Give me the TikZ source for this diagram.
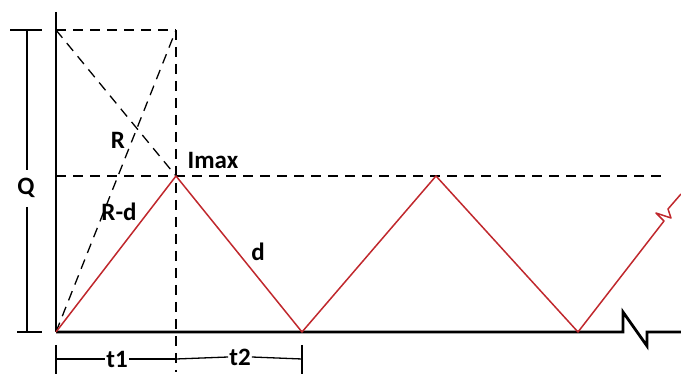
\documentclass[tikz,border=0pt]{standalone}
\usepackage{fontspec}
\setmainfont{Carlito}
\usetikzlibrary{calc}
\definecolor{linered}{HTML}{C0282D}

\begin{document}
\begin{tikzpicture}[
  x=1pt, y=-1pt,
  lbl/.style={font=\fontsize{25}{27}\selectfont\bfseries, inner sep=1pt},
  axis/.style={line width=2.8pt},
  guide/.style={line width=1.3pt, dash pattern=on 10pt off 7pt},
  dim/.style={line width=1.3pt},
  saw/.style={linered, line width=1.5pt, line join=round},
]
  \useasboundingbox (0,0) rectangle (681,374);

  % Points
  \coordinate (o) at (56,332);
  \coordinate (ytop) at (56,12);
  \coordinate (qtop) at (56,30);
  \coordinate (ctop) at (176,30);
  \coordinate (p1) at (176,176);
  \coordinate (v1) at (302,332);
  \coordinate (p2) at (436,176);
  \coordinate (v2) at (578,332);
  \coordinate (lvl) at (665,176);

  % Dashed guides
  \draw[guide] (qtop) -- (ctop);
  \draw[guide] (ctop) -- (176,372);
  \draw[guide] (qtop) -- (p1);
  \draw[guide] (o) -- (ctop);
  \draw[guide] (56,176) -- (lvl);

  % Axes
  \draw[axis] (ytop) -- (o);
  \draw[axis, line join=miter] (o) -- (623,332) -- (623,312) -- (647,346) -- (647,332) -- (681,332);

  % Inventory saw-tooth
  \draw[saw] (o) -- (p1) -- (v1) -- (p2) -- (v2) -- (664,221) -- (656,213) -- (671,218) -- (668,209) -- (681,194);

  % Q dimension
  \draw[dim] (10,30) -- (42,30);
  \draw[dim] (17,332) -- (42,332);
  \draw[dim] (27,30) -- (27,170);
  \draw[dim] (27,207) -- (27,332);
  \node[lbl] (q) at (26,188) {Q};

  % t1, t2 dimensions
  \draw[dim] (56,345) -- (56,374);
  \draw[dim] (302,345) -- (302,374);
  \node[lbl] (t1) at (117,359) {t1};
  \node[lbl] (t2) at (240,357) {t2};
  \draw[dim] (56,359) -- (t1.west);
  \draw[dim] (t1.east) -- (176,359);
  \draw[dim] (176,359) -- (t2.west);
  \draw[dim] (t2.east) -- (302,359);

  % Labels
  \node[lbl] (imax) at (213,160) {Imax};
  \node[lbl] (r) at (118,140) {R};
  \node[lbl] (rd) at (119,212) {R-d};
  \node[lbl] (d) at (258,252) {d};
\end{tikzpicture}
\end{document}
